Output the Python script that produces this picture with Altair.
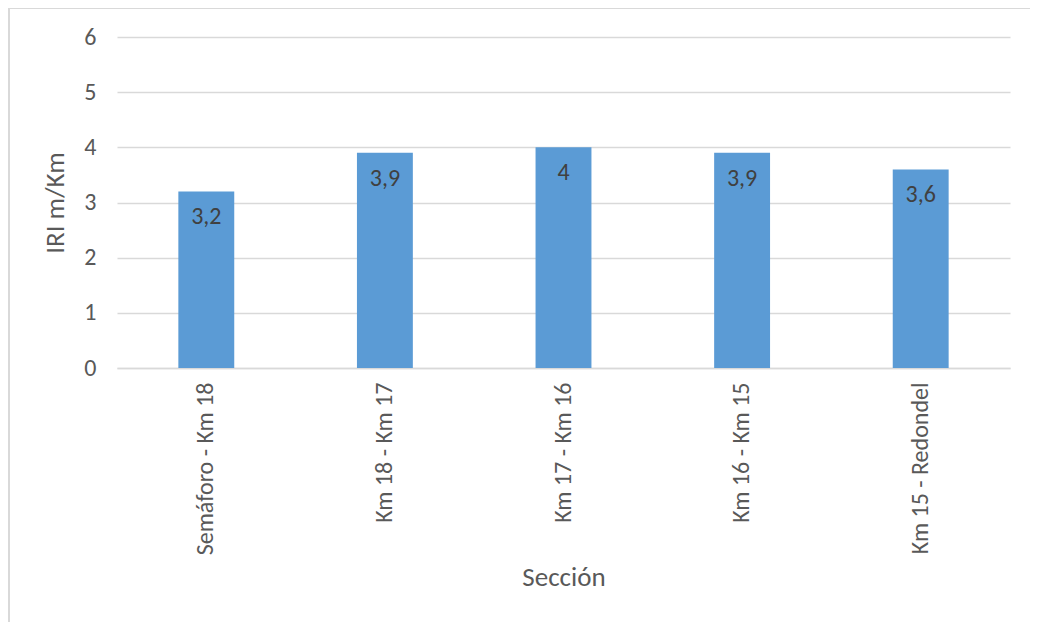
import altair as alt
import pandas as pd

secciones = ["Semáforo - Km 18", "Km 18 - Km 17", "Km 17 - Km 16", "Km 16 - Km 15", "Km 15 - Redondel"]
iri = [3.2, 3.9, 4.0, 3.9, 3.6]
etiquetas = ["3,2", "3,9", "4", "3,9", "3,6"]

df = pd.DataFrame({"Sección": secciones, "IRI": iri, "label": etiquetas})

W, H = 893, 331
FONT = "Calibri, Carlito, 'Open Sans', sans-serif"

x = alt.X("Sección:N", sort=secciones,
          scale=alt.Scale(paddingInner=0.687, paddingOuter=0.3435),
          axis=alt.Axis(title="Sección", labelAngle=-90, labelAlign="right", labelBaseline="middle",
                        labelFontSize=24, labelColor="#595959", labelFont=FONT, labelPadding=14,
                        ticks=False, domainColor="#d9d9d9", domainWidth=1.5,
                        titleFontSize=27, titleFontWeight="normal", titleColor="#595959",
                        titleFont=FONT, titlePadding=10))
y = alt.Y("IRI:Q", scale=alt.Scale(domain=[0, 6], nice=False),
          axis=alt.Axis(title="IRI m/Km", values=[0, 1, 2, 3, 4, 5, 6], format="d",
                        labelFontSize=24, labelColor="#595959", labelFont=FONT, labelPadding=21,
                        ticks=False, domain=False, gridColor="#d9d9d9", gridWidth=1.5,
                        titleFontSize=27, titleFontWeight="normal", titleColor="#595959",
                        titleFont=FONT, titlePadding=14))

bars = alt.Chart(df).mark_bar(color="#5b9bd5").encode(x=x, y=y)
text = alt.Chart(df).mark_text(baseline="top", dy=14, fontSize=24, color="#404040", font=FONT).encode(
    x=alt.X("Sección:N", sort=secciones), y="IRI:Q", text="label:N")
border = alt.Chart(df).mark_rect(fill=None, stroke="#d9d9d9", strokeWidth=2).encode(
    x=alt.value(-108), x2=alt.value(W + 60), y=alt.value(-29), y2=alt.value(H + 300))

chart = alt.layer(bars, text, border).properties(
    width=W, height=H,
    autosize=alt.AutoSizeParams(type="none"),
    padding={"left": 109, "top": 29, "right": 20, "bottom": 254},
).configure_view(stroke=None)

chart.save("out.html", embed_options={"renderer": "svg", "actions": False})
